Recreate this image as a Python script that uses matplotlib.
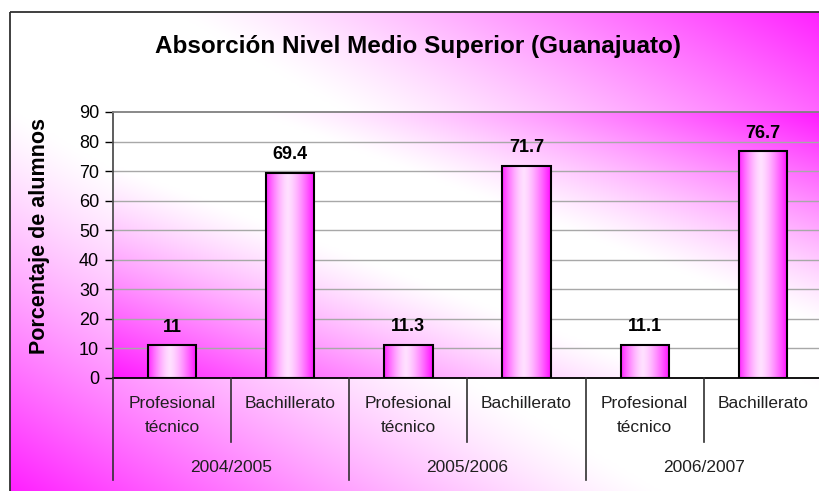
import numpy as np
import matplotlib
matplotlib.use("Agg")
import matplotlib.pyplot as plt
from matplotlib.patches import Rectangle
from matplotlib.transforms import blended_transform_factory

# -------------------------------------------------
# Data
# -------------------------------------------------

years = ["2004/2005", "2005/2006", "2006/2007"]
levels = ["Profesional\ntécnico", "Bachillerato"]
values = [11, 69.4, 11.3, 71.7, 11.1, 76.7]
value_labels = ["11", "69.4", "11.3", "71.7", "11.1", "76.7"]
y_ticks = [0, 10, 20, 30, 40, 50, 60, 70, 80, 90]

title = "Absorción Nivel Medio Superior (Guanajuato)"
y_title = "Porcentaje de alumnos"

plt.rcParams["font.family"] = ["Liberation Sans", "DejaVu Sans"]

W, H = 820, 491
MAGENTA = np.array([1.0, 0.1, 1.0])
WHITE = np.array([1.0, 1.0, 1.0])


def diag_gradient(nx, ny):
    xs = np.linspace(0, 1, nx)[None, :]
    ys = np.linspace(0, 1, ny)[:, None]
    t = np.abs(xs - ys)  # 0 on the top-left/bottom-right diagonal
    c = np.clip((t - 0.2) / 0.8, 0, 1) ** 1.2
    return WHITE * (1 - c[..., None]) + MAGENTA * c[..., None]


def bar_gradient(n=100):
    s = np.linspace(0, 1, n)
    c = np.where(s < 0.45, ((0.45 - s) / 0.45) ** 1.5, ((s - 0.45) / 0.55) ** 1.4)
    light = np.array([1.0, 0.88, 1.0])
    left = np.array([1.0, 0.15, 1.0])
    right = np.array([1.0, 0.05, 1.0])
    col = np.where((s < 0.45)[:, None],
                   light * (1 - c[:, None]) + left * c[:, None],
                   light * (1 - c[:, None]) + right * c[:, None])
    return col[None, :, :]


fig = plt.figure(figsize=(W / 100, H / 100), dpi=100)

# -------------------------------------------------
# Chart area background
# -------------------------------------------------

bg = fig.add_axes([0, 0, 1, 1], zorder=0)
bg.imshow(diag_gradient(400, 300), extent=[10, 840, 500, 12],
          aspect="auto", interpolation="bilinear")
bg.set_xlim(0, W)
bg.set_ylim(H, 0)
bg.axis("off")
bg.add_patch(Rectangle((10, 12), 840, 500, fill=False,
                       edgecolor="#303030", lw=1.3))

# -------------------------------------------------
# Plot area
# -------------------------------------------------

left, right, top, bottom = 113, 822, 112, 378
ax = fig.add_axes([left / W, 1 - bottom / H, (right - left) / W, (bottom - top) / H],
                  zorder=1)

n = len(values)
x = np.arange(n)
ax.set_xlim(-0.5, n - 0.5)
ax.set_ylim(0, 90)

ax.imshow(diag_gradient(300, 200), extent=[-0.5, n - 0.5, 0, 90],
          aspect="auto", interpolation="bilinear", zorder=0)

for yv in y_ticks[1:-1]:
    ax.axhline(yv, color="#a8a8a8", lw=1, zorder=1)

bar_w = 0.41
bars = ax.bar(x, values, width=bar_w, facecolor="none",
              edgecolor="black", lw=1.5, zorder=3)
grad = bar_gradient()
for b in bars:
    bx, by = b.get_x(), b.get_y()
    im = ax.imshow(grad, extent=[bx, bx + b.get_width(), by, by + b.get_height()],
                   aspect="auto", interpolation="bilinear", zorder=2)
    im.set_clip_path(b)

for xi, v, lab in zip(x, values, value_labels):
    ax.annotate(lab, (xi, v), xytext=(0, 7), textcoords="offset points",
                ha="center", va="bottom", fontsize=13, fontweight="bold")

ax.set_xlim(-0.5, n - 0.5)
ax.set_ylim(0, 90)

ax.spines["top"].set_color("#808080")
ax.spines["top"].set_linewidth(1.3)
ax.spines["right"].set_visible(False)
ax.spines["left"].set_color("#505050")
ax.spines["left"].set_linewidth(1.3)
ax.spines["bottom"].set_color("black")
ax.spines["bottom"].set_linewidth(1.3)

ax.set_yticks(y_ticks)
ax.tick_params(axis="y", labelsize=13, length=6, width=1, direction="out", pad=4)
ax.set_xticks([])

fig.text(40 / W, 1 - 236 / H, y_title, rotation=90, ha="center", va="center",
         fontsize=15.5, fontweight="bold")

# -------------------------------------------------
# Multi-level category axis
# -------------------------------------------------

trans = blended_transform_factory(ax.transData, ax.transAxes)
axis_h = bottom - top
sub_depth = -(442 - bottom) / axis_h
grp_depth = -(480 - bottom) / axis_h

for i in range(n + 1):
    xb = i - 0.5
    depth = grp_depth if i % 2 == 0 else sub_depth
    ax.plot([xb, xb], [0, depth], transform=trans, color="#303030",
            lw=1.2, clip_on=False, zorder=4)

for i in range(n):
    ax.text(i, -(396 - bottom) / axis_h, levels[i % 2], transform=trans,
            ha="center", va="top", fontsize=12.5, linespacing=1.75, color="#202020")

for g, yr in enumerate(years):
    ax.text(2 * g + 0.5, -(468 - bottom) / axis_h, yr, transform=trans,
            ha="center", va="center", fontsize=12.5, color="#202020")

# -------------------------------------------------
# Title
# -------------------------------------------------

fig.text(418 / W, 1 - 47 / H, title, ha="center", va="center",
         fontsize=17.5, fontweight="bold")

plt.savefig("out.png", dpi=100)
plt.close()
